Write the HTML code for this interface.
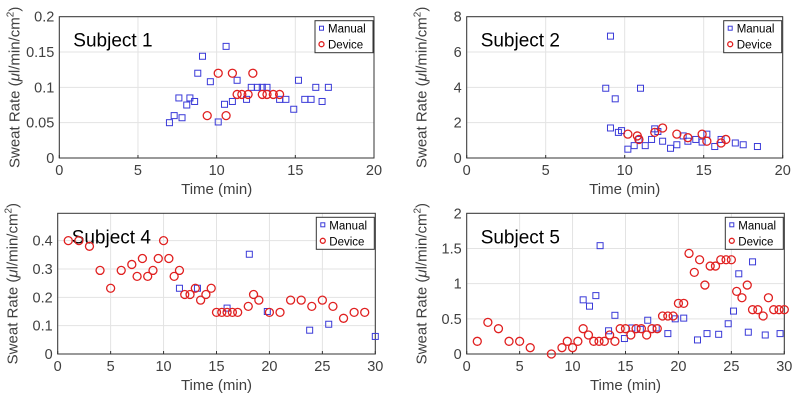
<!DOCTYPE html>
<html><head><meta charset="utf-8"><style>
body{margin:0;background:#fff;width:797px;height:401px;overflow:hidden}
svg{font-family:"Liberation Sans",sans-serif}
</style></head><body>
<svg id="fig" width="797" height="401"></svg>
<script>
const s1ManualX=[7.0,7.3,7.6,7.8,8.1,8.3,8.6,8.8,9.1,9.6,10.1,10.5,10.6,11.0,11.3,11.9,12.2,12.6,12.9,13.2,14.0,14.4,14.9,15.2,15.6,16.0,16.3,16.7,17.1];
const s1ManualY=[0.05,0.06,0.085,0.057,0.075,0.085,0.08,0.12,0.144,0.108,0.051,0.076,0.158,0.08,0.11,0.083,0.1,0.1,0.1,0.1,0.083,0.083,0.069,0.11,0.083,0.083,0.1,0.08,0.1];
const s1DeviceX=[9.4,10.1,10.6,11.0,11.3,11.6,12.0,12.3,12.9,13.2,13.6,14.0];
const s1DeviceY=[0.06,0.12,0.06,0.12,0.09,0.09,0.09,0.12,0.09,0.09,0.09,0.09];
const s2ManualX=[8.8,9.1,9.4,9.1,9.6,9.8,10.2,10.6,10.9,11.0,11.3,11.7,11.9,12.1,12.4,12.9,13.3,13.7,14.0,14.5,14.9,15.2,15.7,16.1,17.0,17.5,18.4];
const s2ManualY=[3.95,6.9,3.35,1.7,1.45,1.55,0.5,0.7,1.05,3.95,0.7,1.05,1.65,1.5,0.95,0.55,0.75,1.25,0.95,1.05,0.9,1.35,0.65,1.05,0.85,0.75,0.65];
const s2DeviceX=[10.2,10.8,10.9,11.9,12.4,13.3,14.0,14.9,15.2,16.1,16.4];
const s2DeviceY=[1.35,1.25,1.05,1.45,1.7,1.35,1.15,1.35,0.95,0.85,1.05];
const s4ManualX=[11.5,13.2,16,18.1,19.8,23.8,25.6,30];
const s4ManualY=[0.232,0.232,0.162,0.352,0.15,0.084,0.105,0.062];
const s4DeviceX=[1,2,3,4,5,6,7,7.5,8,8.5,9,9.5,10,10.5,11,11.5,12,12.5,13,13.5,14,14.5,15,15.5,16,16.5,17,18,18.5,19,20,21,22,23,24,25,26,27,28,29];
const s4DeviceY=[0.4,0.4,0.38,0.295,0.232,0.295,0.316,0.274,0.337,0.274,0.295,0.337,0.4,0.337,0.274,0.295,0.21,0.21,0.232,0.19,0.21,0.232,0.147,0.147,0.147,0.147,0.147,0.168,0.21,0.19,0.147,0.147,0.19,0.19,0.168,0.19,0.168,0.126,0.147,0.147];
const s5ManualX=[11,11.6,12.2,12.6,13.4,14,14.9,15.6,16.4,17.1,17.9,19,19.7,20.5,21.8,22.7,23.8,24.7,25.2,25.7,26.6,27,28.2,29.6];
const s5ManualY=[0.77,0.68,0.83,1.54,0.33,0.55,0.22,0.37,0.35,0.48,0.37,0.29,0.5,0.51,0.2,0.29,0.28,0.43,0.61,1.14,0.31,1.31,0.27,0.29];
const s5DeviceX=[1,2,3,4,5,6,8,9,9.5,10,10.5,11,11.5,12,12.5,13,13.5,14,14.5,15,15.5,16,16.5,17,17.5,18,18.5,19,19.5,20,20.5,21,21.5,22,22.5,23,23.5,24,24.5,25,25.5,26,26.5,27,27.5,28,28.5,29,29.5,30];
const s5DeviceY=[0.18,0.45,0.36,0.18,0.18,0.09,0,0.09,0.18,0.09,0.18,0.36,0.27,0.18,0.18,0.18,0.27,0.18,0.36,0.36,0.27,0.36,0.36,0.27,0.36,0.36,0.54,0.54,0.54,0.72,0.72,1.43,1.16,1.34,0.98,1.25,1.25,1.34,1.34,1.34,0.89,0.8,0.98,0.63,0.63,0.54,0.8,0.63,0.63,0.63];
const xTicks1=[0,5,10,15,20], xTicks2=[0,5,10,15,20,25,30];
const yTicksS1=["0","0.05","0.1","0.15","0.2"], yTicksS2=["0","2","4","6","8"];
const yTicksS4=["0","0.1","0.2","0.3","0.4"], yTicksS5=["0","0.5","1","1.5","2"];

const NS="http://www.w3.org/2000/svg";
const svg=document.getElementById('fig');
function mk(tag,attrs,parent,name,inter){
  const e=document.createElementNS(NS,tag);
  for(const k in attrs)e.setAttribute(k,attrs[k]);
  
  
  (parent||svg).appendChild(e);return e;
}
function panel(id,box,xmax,ymax,xt,yt,title,mx,my,dx,dy){
  const g=mk('g',{},svg,id+'-panel');
  const [L,T,R,B]=box;
  const X=v=>L+(v/xmax)*(R-L), Y=v=>B-(v/ymax)*(B-T);
  mk('rect',{x:L,y:T,width:R-L,height:B-T,fill:'#fff',stroke:'none'},g,id+'-plot-area');
  xt.forEach(v=>{const x=X(v);
    mk('line',{x1:x,x2:x,y1:T,y2:B,stroke:'#e3e3e3','stroke-width':1},g,id+'-x-grid');
    mk('line',{x1:x,x2:x,y1:B,y2:B-3,stroke:'#333'},g,id+'-x-tick');
    mk('text',{x:x,y:B+17,'text-anchor':'middle','font-size':14.5,fill:'#404040'},g,id+'-x-tick-label').textContent=v;});
  yt.forEach(l=>{const y=Y(parseFloat(l));
    mk('line',{x1:L,x2:R,y1:y,y2:y,stroke:'#e3e3e3','stroke-width':1},g,id+'-y-grid');
    mk('text',{x:L-5,y:y+5,'text-anchor':'end','font-size':14.5,fill:'#404040'},g,id+'-y-tick-label').textContent=l;});
  mk('rect',{x:L,y:T,width:R-L,height:B-T,fill:'none',stroke:'#333','stroke-width':1},g,id+'-axes-box');
  mk('text',{x:(L+R)/2,y:B+36,'text-anchor':'middle','font-size':15,fill:'#404040'},g,id+'-x-axis-title').textContent='Time (min)';
  const yt2=mk('text',{x:0,y:0,'text-anchor':'middle','font-size':15,fill:'#404040',transform:`translate(${L-40},${(T+B)/2}) rotate(-90)`},g,id+'-y-axis-title');
  yt2.innerHTML='Sweat Rate (<tspan font-style="italic">μ</tspan>l/min/cm<tspan dy="-6" font-size="10">2</tspan><tspan dy="6">)</tspan>';
  mk('text',{x:L+14,y:T+30,'font-size':19,fill:'#000'},g,id+'-subject-label').textContent=title;
  const mg=mk('g',{},g,id+'-manual-series');
  mx.forEach((v,i)=>mk('rect',{x:X(v)-3,y:Y(my[i])-3,width:6,height:6,fill:'none',stroke:'#3a3ad8','stroke-width':1},mg,id+'-manual-point'));
  const dg=mk('g',{},g,id+'-device-series');
  dx.forEach((v,i)=>mk('circle',{cx:X(v),cy:Y(dy[i]),r:4,fill:'none',stroke:'#e02020','stroke-width':1.3},dg,id+'-device-point'));
  const lg=mk('g',{},g,id+'-legend');
  mk('rect',{x:R-59,y:T+4,width:58,height:32,fill:'#fff',stroke:'#333'},lg,id+'-legend-box');
  mk('rect',{x:R-54.5,y:T+9.5,width:4,height:4,fill:'none',stroke:'#3a3ad8'},lg,id+'-legend-manual-marker');
  mk('text',{x:R-46,y:T+16,'font-size':11.5,fill:'#000'},lg,id+'-legend-manual-label').textContent='Manual';
  mk('circle',{cx:R-52.5,cy:T+27.5,r:2.5,fill:'none',stroke:'#e02020','stroke-width':1.3},lg,id+'-legend-device-marker');
  mk('text',{x:R-46,y:T+32,'font-size':11.5,fill:'#000'},lg,id+'-legend-device-label').textContent='Device';
}
panel('subject1',[59.3,16.7,374,158],20,0.2,xTicks1,yTicksS1,'Subject 1',s1ManualX,s1ManualY,s1DeviceX,s1DeviceY);
panel('subject2',[466.7,16.7,782.7,158],20,8,xTicks1,yTicksS2,'Subject 2',s2ManualX,s2ManualY,s2DeviceX,s2DeviceY);
panel('subject4',[57.7,213.3,375.3,354],30,0.4965,xTicks2,yTicksS4,'Subject 4',s4ManualX,s4ManualY,s4DeviceX,s4DeviceY);
panel('subject5',[466.7,213.3,784.3,354],30,2,xTicks2,yTicksS5,'Subject 5',s5ManualX,s5ManualY,s5DeviceX,s5DeviceY);
</script>
</body></html>
